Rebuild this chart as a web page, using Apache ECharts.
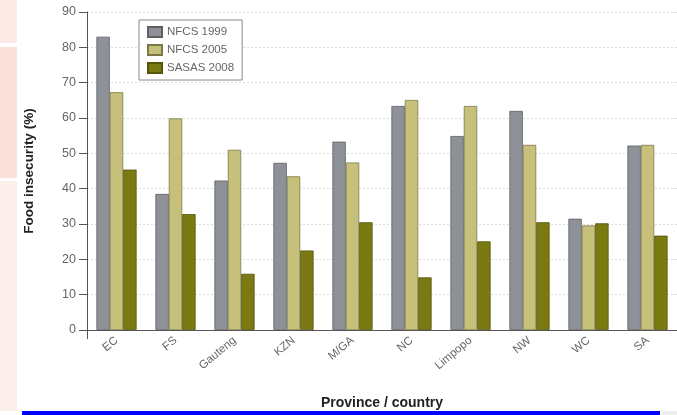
<!DOCTYPE html>
<html>
<head>
<meta charset="utf-8">
<script src="https://cdn.jsdelivr.net/npm/echarts@6/dist/echarts.min.js"></script>
<style>html,body{margin:0;padding:0;background:#fff;}#c{width:677px;height:415px;}</style>
</head>
<body>
<div id="c"></div>
<script>
const categories = ['EC','FS','Gauteng','KZN','M/GA','NC','Limpopo','NW','WC','SA'];
const nfcs1999 = [83, 38.5, 42.3, 47.3, 53.3, 63.4, 54.9, 62, 31.5, 52.2];
const nfcs2005 = [67.3, 59.9, 51, 43.5, 47.4, 65.1, 63.4, 52.4, 29.6, 52.4];
const sasas2008 = [45.4, 32.8, 15.9, 22.5, 30.5, 14.9, 25.1, 30.5, 30.2, 26.7];
const seriesNames = ['NFCS 1999','NFCS 2005','SASAS 2008'];

const chart = echarts.init(document.getElementById('c'), null, {renderer:'canvas'});
const font = 'Liberation Sans Narrow, Liberation Sans, Arial, sans-serif';
function bar(name, data, color, border){
  return {name, type:'bar', data, barWidth:13.4, barGap:'0%',
    itemStyle:{color, borderColor:border, borderWidth:0.8}};
}
chart.setOption({
  animation:false,
  backgroundColor:'#ffffff',
  grid:{left:87, right:-7, top:12, bottom:83, containLabel:false},
  legend:{
    left:139, top:20, orient:'vertical', itemWidth:14, itemHeight:10, itemGap:6,
    icon:'rect',
    padding:[6,8,6,8], borderColor:'#888', borderWidth:1, backgroundColor:'#fff',
    textStyle:{color:'#666', fontSize:11.5, fontFamily:font},
    data:seriesNames
  },
  xAxis:{
    type:'category', data:categories,
    name:'Province / country', nameLocation:'middle', nameGap:66,
    nameTextStyle:{color:'#222', fontWeight:'bold', fontSize:14, fontFamily:font},
    axisLine:{lineStyle:{color:'#555', width:1}},
    axisTick:{show:true, length:9, interval:(i)=>i===0, lineStyle:{color:'#555'}},
    axisLabel:{rotate:40, color:'#666', fontSize:11.5, fontFamily:font, margin:9},
    splitLine:{show:false}
  },
  yAxis:{
    type:'value', min:0, max:90, interval:10,
    name:'Food insecurity (%)', nameLocation:'middle', nameGap:51,
    nameTextStyle:{color:'#222', fontWeight:'bold', fontSize:13.5, fontFamily:font},
    axisLine:{show:true, lineStyle:{color:'#555', width:1}},
    axisTick:{show:true, length:8, lineStyle:{color:'#555'}},
    axisLabel:{color:'#666', fontSize:12.5, fontFamily:font, margin:11},
    splitLine:{show:true, lineStyle:{color:'#dcdcdc', type:[2,2], width:1}}
  },
  series:[
    bar(seriesNames[0], nfcs1999, '#8f9199', '#5e5f63'),
    bar(seriesNames[1], nfcs2005, '#c6c07a', '#7c7846'),
    bar(seriesNames[2], sasas2008, '#7b7a12', '#55540b')
  ],
  graphic:[
    {type:'rect', shape:{x:0,y:0,width:17,height:43}, style:{fill:'#fdeae7'}, silent:true},
    {type:'rect', shape:{x:0,y:47,width:17,height:131}, style:{fill:'#fbe1dc'}, silent:true},
    {type:'rect', shape:{x:0,y:181,width:17,height:230}, style:{fill:'#fdefec'}, silent:true},
    {type:'rect', shape:{x:22,y:411,width:638,height:4}, style:{fill:'#0000ff'}, silent:true},
    {type:'rect', shape:{x:661,y:411,width:16,height:4}, style:{fill:'#eeeeee'}, silent:true}
  ]
});
</script>
</body>
</html>
